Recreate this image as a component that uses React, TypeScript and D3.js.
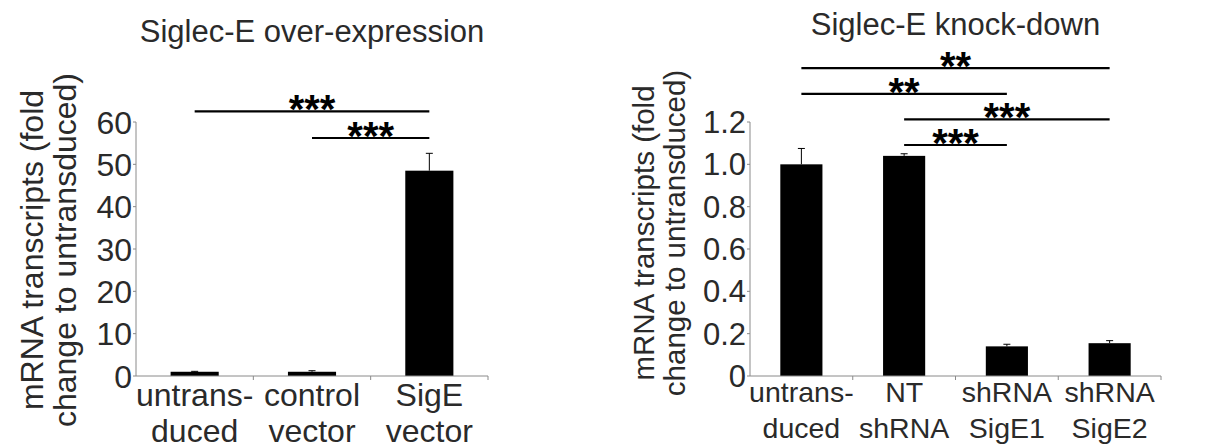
import React from 'react'
import * as d3 from 'd3'

// over-expression panel
const oeCategories = [['untrans-', 'duced'], ['control', 'vector'], ['SigE', 'vector']]
const oeValues = [1.0, 1.0, 48.5]
const oeErrors = [0.1, 0.25, 4.1]
const oeTicks = [0, 10, 20, 30, 40, 50, 60]
const oeSig = [
  { from: 1, to: 2, label: '***' },
  { from: 0, to: 2, label: '***' },
]

// knock-down panel
const kdCategories = [['untrans-', 'duced'], ['NT', 'shRNA'], ['shRNA', 'SigE1'], ['shRNA', 'SigE2']]
const kdValues = [1.0, 1.04, 0.14, 0.155]
const kdErrors = [0.075, 0.01, 0.01, 0.012]
const kdTicks = [0, 0.2, 0.4, 0.6, 0.8, 1.0, 1.2]
const kdSig = [
  { from: 1, to: 2, label: '***' },
  { from: 1, to: 3, label: '***' },
  { from: 0, to: 2, label: '**' },
  { from: 0, to: 3, label: '**' },
]

const FONT = "'Liberation Sans', Arial, sans-serif"
const TEXT = '#2a2a2a'
const AXIS = '#8a8a8a'

type Sig = { from: number, to: number, label: string }

type PanelProps = {
  title: string, titleY: number, categories: string[][], values: number[], errors: number[],
  ticks: number[], fmt: (d: number) => string, sig: Sig[], left: number, right: number,
  sigBase: number, sigStep: number, ytCenter: number, ytX: number, ytGap: number, ytSize: number,
  tickSize: number, labelSize: number, labelY: number
}

const Panel = ({ title, titleY, categories, values, errors, ticks, fmt, sig, left, right, sigBase, sigStep,
  ytCenter, ytX, ytGap, ytSize, tickSize, labelSize, labelY }: PanelProps) => {
  const top = 122
  const bottom = 376
  const y = d3.scaleLinear().domain([0, ticks[ticks.length - 1]]).range([bottom, top])
  const x = d3.scaleBand<number>().domain(d3.range(categories.length)).range([left, right]).padding(0)
  const bw = x.bandwidth() * 0.41
  const cx = (i: number) => (x(i) as number) + x.bandwidth() / 2
  const b1 = ytSize * 0.35

  return (
    <g fontFamily={FONT}>
      <text x={(left + right) / 2} y={titleY} textAnchor="middle" fontSize={31} fill={TEXT}>{title}</text>

      {/* y axis title */}
      <g transform={`translate(${left - ytX},${ytCenter}) rotate(-90)`}>
        <text x={0} y={b1} textAnchor="middle" fontSize={ytSize} fill={TEXT}>mRNA transcripts (fold</text>
        <text x={0} y={b1 + ytGap} textAnchor="middle" fontSize={ytSize} fill={TEXT}>change to untransduced)</text>
      </g>

      {/* bars */}
      {values.map((v, i) => (
        <g key={i}>
          <rect x={cx(i) - bw / 2} y={y(v)} width={bw} height={y(0) - y(v)} fill="#000" />
          <line x1={cx(i)} x2={cx(i)} y1={y(v)} y2={y(v + errors[i])} stroke="#000" strokeWidth={1} />
          <line x1={cx(i) - 3.5} x2={cx(i) + 3.5} y1={y(v + errors[i])} y2={y(v + errors[i])} stroke="#000" strokeWidth={1} />
        </g>
      ))}

      {/* axes */}
      <line x1={left} x2={left} y1={top} y2={bottom} stroke={AXIS} strokeWidth={1} />
      <line x1={left} x2={right} y1={bottom} y2={bottom} stroke={AXIS} strokeWidth={1} />
      {ticks.map(t => (
        <g key={t}>
          <line x1={left - 3} x2={left} y1={y(t)} y2={y(t)} stroke={AXIS} strokeWidth={1} />
          <text x={left - 4} y={y(t)} dy="0.36em" textAnchor="end" fontSize={tickSize} fill={TEXT}>{fmt(t)}</text>
        </g>
      ))}
      {categories.map((c, i) => (
        <g key={i}>
          <line x1={(x(i) as number) + x.bandwidth()} x2={(x(i) as number) + x.bandwidth()} y1={bottom} y2={bottom + 4} stroke={AXIS} strokeWidth={1} />
          <text x={cx(i)} y={bottom + labelY} textAnchor="middle" fontSize={labelSize} fill={TEXT}>{c[0]}</text>
          <text x={cx(i)} y={bottom + labelY + 36} textAnchor="middle" fontSize={labelSize} fill={TEXT}>{c[1]}</text>
        </g>
      ))}

      {/* significance bars */}
      {sig.map((s, k) => {
        const ly = sigBase - k * sigStep
        return (
          <g key={k}>
            <line x1={cx(s.from)} x2={cx(s.to)} y1={ly} y2={ly} stroke="#000" strokeWidth={2.2} />
            <text x={(cx(s.from) + cx(s.to)) / 2} y={ly + 12} textAnchor="middle" fontSize={40} fontWeight="bold" fill="#000">{s.label}</text>
          </g>
        )
      })}
    </g>
  )
}

const App = () => {
  return (
    <svg width={1224} height={448} style={{ position: 'absolute', left: 0, top: 0, background: '#fff' }}>
      <rect width={1224} height={448} fill="#fff" />
      <Panel title="Siglec-E over-expression" titleY={42} categories={oeCategories} values={oeValues}
        errors={oeErrors} ticks={oeTicks} fmt={d => String(d)} sig={oeSig}
        left={136} right={488} sigBase={138} sigStep={26.6} ytCenter={250} ytX={104} ytGap={33} ytSize={32}
        tickSize={32} labelSize={32} labelY={30} />
      <Panel title="Siglec-E knock-down" titleY={35} categories={kdCategories} values={kdValues}
        errors={kdErrors} ticks={kdTicks} fmt={d => (d === 0 ? '0' : d3.format('.1f')(d))} sig={kdSig}
        left={750} right={1161} sigBase={145} sigStep={25.6} ytCenter={233} ytX={106} ytGap={31} ytSize={29.5}
        tickSize={31} labelSize={28.5} labelY={26} />
    </svg>
  )
}

export default App
